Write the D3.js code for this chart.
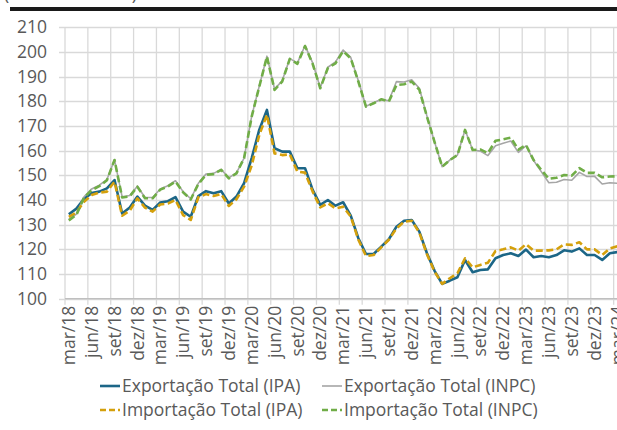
<!DOCTYPE html>
<html>
<head>
<meta charset="utf-8">
<script src="https://cdn.jsdelivr.net/npm/d3@7"></script>
<style>
  body { margin: 0; background: #fff; }
  svg { display: block; font-family: "Open Sans", Lato, sans-serif; }
</style>
</head>
<body>
<svg id="chart" width="617" height="430"></svg>
<script>
// month categories, mar/18 .. mar/24
const months = [
  'mar/18','abr/18','mai/18','jun/18','jul/18','ago/18','set/18','out/18','nov/18','dez/18',
  'jan/19','fev/19','mar/19','abr/19','mai/19','jun/19','jul/19','ago/19','set/19','out/19','nov/19','dez/19',
  'jan/20','fev/20','mar/20','abr/20','mai/20','jun/20','jul/20','ago/20','set/20','out/20','nov/20','dez/20',
  'jan/21','fev/21','mar/21','abr/21','mai/21','jun/21','jul/21','ago/21','set/21','out/21','nov/21','dez/21',
  'jan/22','fev/22','mar/22','abr/22','mai/22','jun/22','jul/22','ago/22','set/22','out/22','nov/22','dez/22',
  'jan/23','fev/23','mar/23','abr/23','mai/23','jun/23','jul/23','ago/23','set/23','out/23','nov/23','dez/23',
  'jan/24','fev/24','mar/24'
];

const yTicks = [100, 110, 120, 130, 140, 150, 160, 170, 180, 190, 200, 210];

// Exportação Total (IPA)
const expIPA = [
  134.2, 136.5, 140.5, 142.8, 143.4, 144.7, 148.1, 134.5, 137.0, 141.4,
  137.7, 136.0, 139.0, 139.5, 141.2, 135.3, 133.2, 141.6, 143.6, 142.7, 143.6, 138.6,
  141.4, 146.8, 157.0, 168.5, 176.5, 161.0, 159.6, 159.6, 152.9, 152.9, 144.1, 138.0,
  140.0, 137.7, 139.1, 133.7, 124.5, 118.1, 118.1, 121.1, 124.1, 129.2, 131.6, 131.9,
  127.2, 118.4, 111.3, 106.0, 107.3, 108.7, 115.7, 110.7, 111.6, 111.9, 116.4, 117.7,
  118.4, 117.3, 119.9, 116.8, 117.3, 116.8, 117.7, 119.6, 119.1, 120.4, 117.7, 117.7,
  115.7, 118.4, 118.9
];

// Exportação Total (INPC)
const expINPC = [
  132.2, 134.3, 141.3, 144.5, 146.0, 148.3, 156.3, 141.3, 141.8, 145.6,
  141.0, 141.0, 144.5, 145.8, 147.8, 143.4, 140.5, 146.8, 150.5, 150.8, 152.4, 149.0,
  151.0, 157.0, 174.0, 186.2, 198.3, 185.0, 188.3, 197.3, 195.6, 202.6, 195.6, 185.5,
  193.8, 196.0, 200.8, 197.8, 188.3, 178.0, 179.4, 180.8, 180.2, 188.0, 187.8, 188.7,
  185.3, 174.0, 163.5, 153.5, 156.2, 158.2, 168.4, 160.3, 159.8, 158.0, 162.0, 163.0,
  163.9, 159.3, 162.0, 156.0, 151.5, 147.0, 147.2, 148.3, 148.0, 151.2, 149.5, 149.6,
  146.5, 147.0, 146.8
];

// Importação Total (IPA)
const impIPA = [
  133.2, 135.0, 139.3, 142.0, 143.0, 143.4, 147.4, 133.6, 135.7, 140.7,
  136.9, 135.3, 138.2, 138.6, 140.0, 133.9, 131.9, 141.1, 142.4, 141.6, 142.4, 137.6,
  140.3, 145.4, 154.0, 166.4, 174.5, 158.9, 158.2, 158.5, 151.5, 151.1, 143.4, 137.0,
  138.7, 136.6, 137.3, 133.3, 123.9, 117.3, 117.7, 120.8, 123.9, 128.5, 131.2, 131.6,
  126.8, 118.0, 111.0, 106.0, 108.3, 110.3, 116.4, 112.7, 113.7, 114.6, 119.3, 120.0,
  120.8, 119.5, 122.1, 119.5, 119.5, 119.6, 120.0, 122.0, 121.8, 122.9, 120.0, 120.0,
  117.7, 120.4, 121.3
];

// Importação Total (INPC)
const impINPC = [
  131.7, 134.0, 141.0, 144.0, 145.6, 148.0, 156.2, 141.0, 141.5, 145.4,
  140.7, 140.7, 144.2, 145.5, 147.5, 143.1, 140.2, 146.5, 150.2, 150.5, 152.2, 148.8,
  150.8, 156.9, 173.8, 186.0, 198.1, 184.6, 188.0, 197.2, 195.2, 202.4, 195.2, 185.3,
  193.5, 195.4, 200.3, 197.4, 188.0, 177.8, 179.2, 180.8, 179.9, 186.6, 186.9, 188.0,
  184.7, 173.8, 163.5, 153.5, 156.2, 158.2, 168.4, 160.3, 160.5, 159.0, 164.0, 164.6,
  165.3, 160.4, 162.3, 156.2, 152.2, 148.6, 149.0, 150.1, 149.9, 152.9, 151.0, 151.0,
  149.2, 149.5, 149.6
];

const seriesNames = [
  'Exportação Total (IPA)', 'Exportação Total (INPC)',
  'Importação Total (IPA)', 'Importação Total (INPC)'
];

const svg = d3.select('#chart');
const textColor = '#595959';
const gridColor = '#d9d9d9';
const fontSize = 17.5;

// top title strip (mostly cut off) and black rule
svg.append('text')
  .attr('x', 4)
  .attr('y', -0.5)
  .attr('font-size', fontSize)
  .attr('fill', textColor)
  .attr('textLength', 133)
  .text('(índice 2018 = 100)');

svg.append('rect')
  .attr('x', 10)
  .attr('y', 7)
  .attr('width', 607)
  .attr('height', 4)
  .attr('fill', '#1a1a1a');

// scales
const x = d3.scaleBand()
  .domain(months)
  .range([65, 65 + months.length * 7.62])
  .paddingInner(0)
  .paddingOuter(0);

const y = d3.scaleLinear()
  .domain([100, 210])
  .range([298.7, 27.3]);

const cx = d => x(d) + x.bandwidth() / 2;

// gridlines
const grid = svg.append('g');
grid.selectAll('line.h')
  .data(yTicks)
  .enter()
  .append('line')
  .attr('class', 'h')
  .attr('x1', 59)
  .attr('x2', 617)
  .attr('y1', d => Math.round(y(d)) + 0.5)
  .attr('y2', d => Math.round(y(d)) + 0.5)
  .attr('stroke', gridColor)
  .attr('stroke-width', 1.3);

const quarterMonths = months.filter((m, i) => i % 3 === 0);

grid.selectAll('line.v')
  .data(quarterMonths)
  .enter()
  .append('line')
  .attr('class', 'v')
  .attr('x1', d => x(d))
  .attr('x2', d => x(d))
  .attr('y1', y(210))
  .attr('y2', y(100) + 6)
  .attr('stroke', gridColor)
  .attr('stroke-width', 1.3);

// y axis labels
const yAxis = svg.append('g')
  .attr('transform', 'translate(47,0)')
  .call(d3.axisLeft(y).tickValues(yTicks).tickSize(0).tickPadding(0));
yAxis.select('.domain').remove();
yAxis.selectAll('text')
  .attr('font-size', fontSize)
  .attr('font-family', '"Open Sans", Lato, sans-serif')
  .attr('fill', textColor)
  .attr('x', 0);

// x axis
svg.append('line')
  .attr('x1', 65)
  .attr('x2', 617)
  .attr('y1', y(100))
  .attr('y2', y(100))
  .attr('stroke', '#bfbfbf')
  .attr('stroke-width', 1.3);

const xAxis = svg.append('g')
  .attr('transform', `translate(0,${y(100)})`)
  .call(d3.axisBottom(x).tickValues(quarterMonths).tickSize(0));
xAxis.select('.domain').remove();
xAxis.selectAll('text')
  .attr('font-size', fontSize)
  .attr('font-family', '"Open Sans", Lato, sans-serif')
  .attr('fill', textColor)
  .attr('transform', 'rotate(-90)')
  .attr('text-anchor', 'end')
  .attr('x', -7)
  .attr('y', 0)
  .attr('dy', '0.35em');

// series lines
const styles = [
  { data: expIPA,  color: '#1c6687', width: 2.6, dash: null },
  { data: expINPC, color: '#a6a6a6', width: 1.6, dash: null },
  { data: impIPA,  color: '#d4a00c', width: 2.6, dash: '7,3.5' },
  { data: impINPC, color: '#70ad47', width: 2.6, dash: '7,3.5' }
];

const line = d3.line()
  .x((d, i) => cx(months[i]))
  .y(d => y(d));

svg.append('g')
  .selectAll('path')
  .data(styles)
  .enter()
  .append('path')
  .attr('d', d => line(d.data))
  .attr('fill', 'none')
  .attr('stroke', d => d.color)
  .attr('stroke-width', d => d.width)
  .attr('stroke-dasharray', d => d.dash)
  .attr('stroke-linejoin', 'round');

// legend
const legendPos = [
  { x: 100, y: 386 }, { x: 322, y: 386 },
  { x: 100, y: 410 }, { x: 322, y: 410 }
];

const legend = svg.append('g')
  .selectAll('g')
  .data(styles)
  .enter()
  .append('g')
  .attr('transform', (d, i) => `translate(${legendPos[i].x},${legendPos[i].y})`);

legend.append('line')
  .attr('x1', 0)
  .attr('x2', 20)
  .attr('y1', 0)
  .attr('y2', 0)
  .attr('stroke', d => d.color)
  .attr('stroke-width', d => d.width)
  .attr('stroke-dasharray', d => d.dash ? '6,3' : null);

legend.append('text')
  .attr('x', 22)
  .attr('y', 0)
  .attr('dy', '0.35em')
  .attr('font-size', fontSize)
  .attr('fill', textColor)
  .text((d, i) => seriesNames[i]);
</script>
</body>
</html>
